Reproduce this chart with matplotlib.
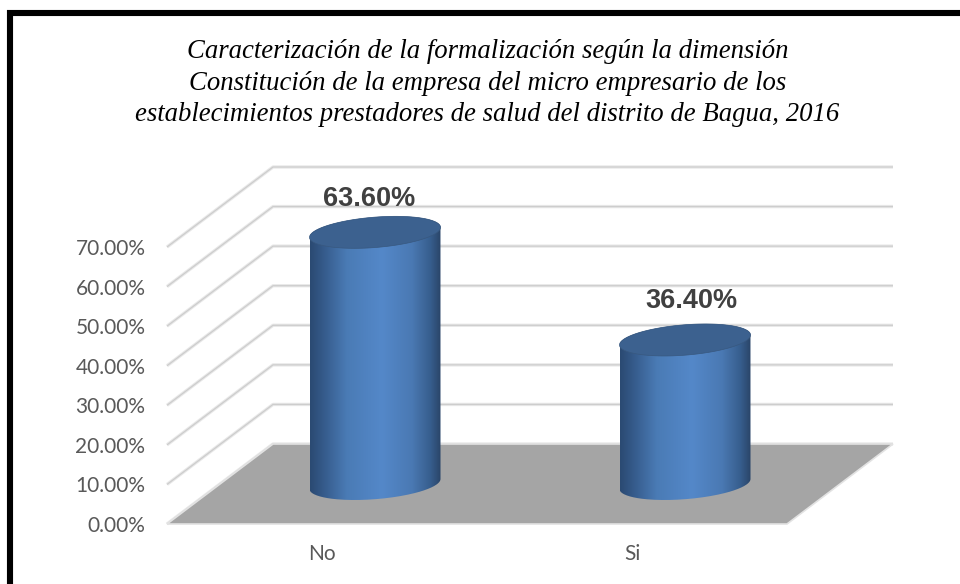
import numpy as np
import matplotlib
matplotlib.use("Agg")
import matplotlib.pyplot as plt
from matplotlib.colors import LinearSegmentedColormap
from matplotlib.patches import PathPatch, Polygon, Rectangle
from matplotlib.path import Path

categories = ["No", "Si"]
values = [63.6, 36.4]
value_labels = ["63.60%", "36.40%"]
ticks = [0, 10, 20, 30, 40, 50, 60, 70]
tick_labels = ["0.00%", "10.00%", "20.00%", "30.00%", "40.00%", "50.00%", "60.00%", "70.00%"]
title = ("Caracterización de la formalización según la dimensión\n"
         "Constitución de la empresa del micro empresario de los\n"
         "establecimientos prestadores de salud del distrito de Bagua, 2016")

W, H = 960, 584
fig = plt.figure(figsize=(W / 100, H / 100), dpi=100, facecolor="white")

L, R, B, T = 167, 787, 524, 247
ax = fig.add_axes([L / W, 1 - B / H, (R - L) / W, (B - T) / H])
ax.set_xlim(-0.5, 1.5)
ax.set_ylim(0, 70)
ax.patch.set_alpha(0)
for s in ax.spines.values():
    s.set_visible(False)

# oblique depth in data units (cat units, percent units)
px_x = (R - L) / 2
px_y = (B - T) / 70
DX, DY = 106 / px_x, 80 / px_y


def proj(c, v, d):
    return c + d * DX, v + d * DY


# floor
floor = [proj(-0.5, 0, 0), proj(1.5, 0, 0), proj(1.5, 0, 1), proj(-0.5, 0, 1)]
ax.add_patch(Polygon(floor, closed=True, fc="#a5a5a5", ec="#e2e2e2", lw=1.2, zorder=2, clip_on=False))

# gridlines
for t in ticks:
    pts = np.array([proj(-0.5, t, 0), proj(-0.5, t, 1), proj(1.5, t, 1)])
    ax.plot(pts[:, 0], pts[:, 1], color="#e8e8e8", lw=2.4, zorder=1, clip_on=False, solid_capstyle="butt")
    ax.plot(pts[:, 0], pts[:, 1], color="#cdcdcd", lw=0.9, zorder=1.1, clip_on=False, solid_capstyle="butt")

# cylinders
cmap = LinearSegmentedColormap.from_list(
    "cyl",
    [(0, "#2b4a72"), (0.1, "#355a8a"), (0.28, "#4a7bb5"), (0.55, "#5488c9"),
     (0.78, "#4a79b3"), (0.92, "#375e8e"), (1, "#2a4568")],
)
half_w = 65.5 / px_x
semi_b = 15.2 / px_y
shear = 5.0 / px_y
t_arc = np.linspace(0, 2 * np.pi, 200)
grad = np.linspace(0, 1, 256).reshape(1, -1)

for i, v in enumerate(values):
    cx, cy0 = proj(i, 0, 0.5)
    x_rel = np.cos(t_arc)
    yoff = semi_b * np.sin(t_arc) + shear * x_rel
    ex = cx + half_w * x_rel
    tb = np.linspace(np.pi, 2 * np.pi, 100)
    bx = cx + half_w * np.cos(tb)
    by = cy0 + semi_b * np.sin(tb) + shear * np.cos(tb)
    top_c = cy0 + v
    tt = np.linspace(0, np.pi, 100)
    ux = cx + half_w * np.cos(tt)
    uy = top_c + semi_b * np.sin(tt) + shear * np.cos(tt)
    body = Path(np.column_stack([np.r_[bx, ux], np.r_[by, uy]]))
    im = ax.imshow(grad, cmap=cmap, aspect="auto", zorder=3,
                   extent=(cx - half_w, cx + half_w, cy0 - 10, top_c + 10),
                   interpolation="bilinear")
    im.set_clip_box(fig.bbox)
    im.set_clip_path(PathPatch(body, transform=ax.transData))
    ax.add_patch(Polygon(np.column_stack([ex, top_c + yoff]), closed=True,
                         fc="#3c618f", ec="#38587f", lw=0.5, zorder=4, clip_on=False))

ax.set_xlim(-0.5, 1.5)
ax.set_ylim(0, 70)

# value labels
label_pts = [(-6, 33), (6, 39)]
for i, (v, lab, off) in enumerate(zip(values, value_labels, label_pts)):
    cx, cy0 = proj(i, 0, 0.5)
    ax.annotate(lab, xy=(cx, cy0 + v), xytext=(off[0] * 0.72, off[1] * 0.72),
                textcoords="offset points", ha="center", va="center",
                fontsize=19.5, fontweight="bold", family="Liberation Sans",
                color="#404040", zorder=6, annotation_clip=False)

ax.set_xticks(range(len(categories)))
ax.set_xticklabels(categories, fontsize=15, color="#595959", family="Lato")
ax.set_yticks(ticks)
ax.set_yticklabels(tick_labels, fontsize=15, color="#595959", family="Lato")
ax.tick_params(length=0)
ax.tick_params(axis="y", pad=15.5)
ax.tick_params(axis="x", pad=14.5)

fig.text(487.5 / W, 1 - 83 / H, title, ha="center", va="center", fontsize=19.3,
         style="italic", family="Liberation Serif", color="black", linespacing=1.33)

# frame: only the left and top edges fall inside the picture
fig.add_artist(Rectangle((10 / W, 1 - 620 / H), 980 / W, 607 / H, transform=fig.transFigure,
                         fc="none", ec="black", lw=4.4))

fig.savefig("out.png", dpi=100, facecolor="white")
